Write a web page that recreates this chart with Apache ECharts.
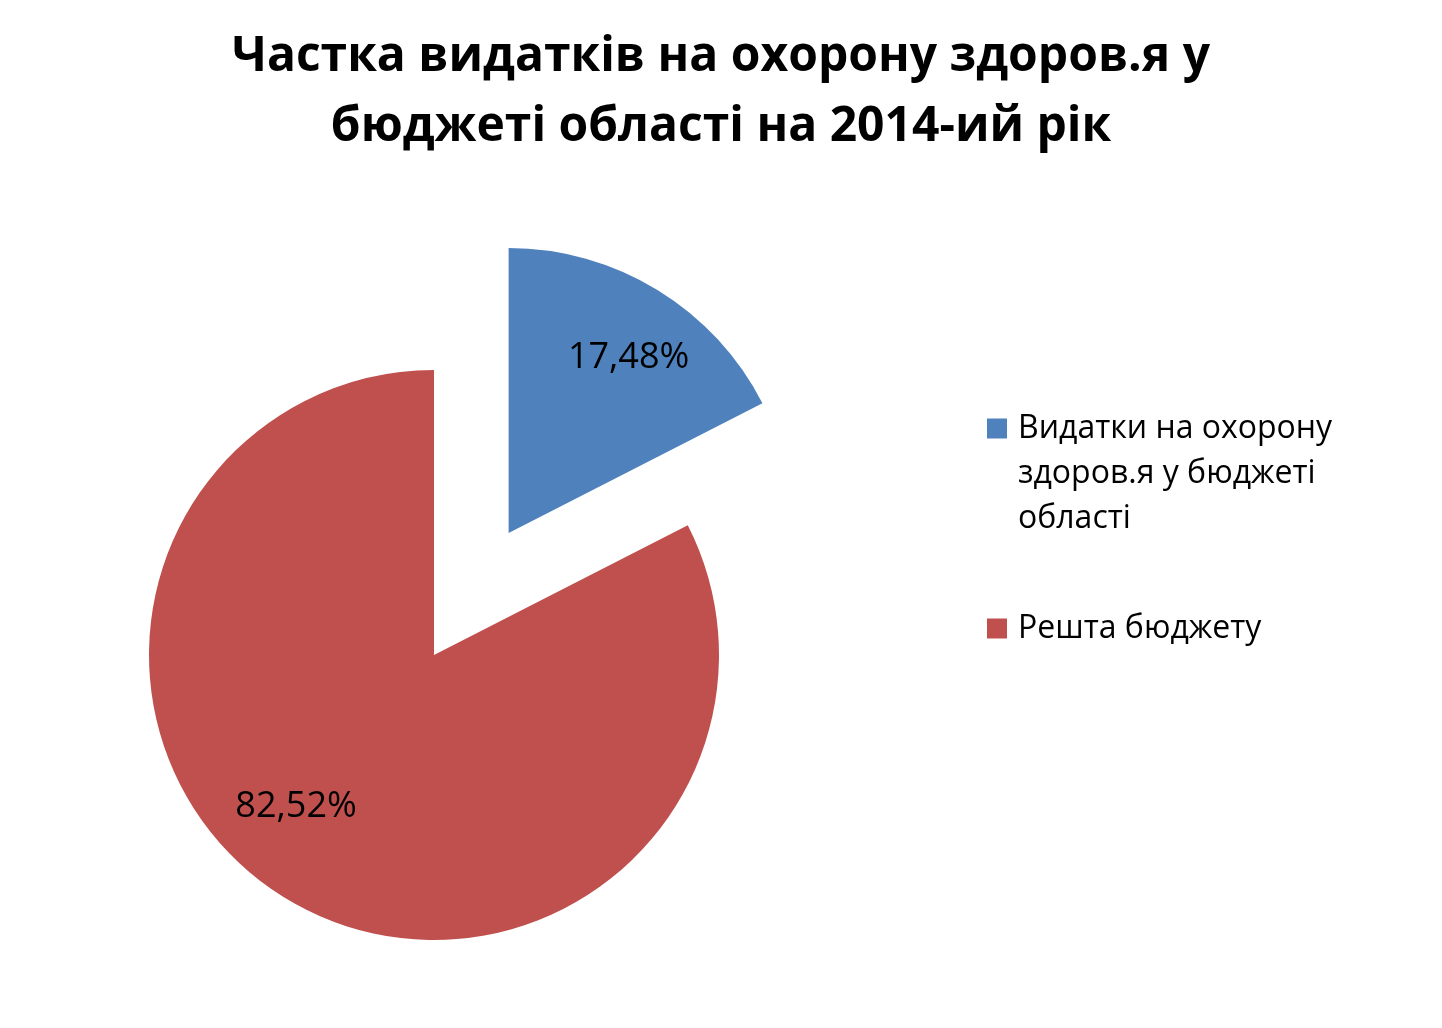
<!DOCTYPE html>
<html>
<head>
<meta charset="utf-8">
<script src="https://cdn.jsdelivr.net/npm/echarts@6/dist/echarts.min.js"></script>
<style>
  html, body { margin: 0; padding: 0; background: #ffffff; }
  #chart { width: 1442px; height: 1028px; }
</style>
</head>
<body>
<div id="chart"></div>
<script>
const titleLines = ['Частка видатків на охорону здоров.я у', 'бюджеті області на 2014-ий рік'];
const categories = ['Видатки на охорону здоров.я у бюджеті області', 'Решта бюджету'];
const legendLines = [['Видатки на охорону', 'здоров.я у бюджеті', 'області'], ['Решта бюджету']];
const values = [17.48, 82.52];
const colors = ['#4F81BD', '#C0504D'];
const labelShift = [[44, -51], [-62, 28]];

const FONT = "'Open Sans', 'Noto Sans', 'DejaVu Sans', sans-serif";
const LEGEND_LH = 45;

const chart = echarts.init(document.getElementById('chart'), null, { renderer: 'canvas' });

chart.setOption({
  backgroundColor: '#ffffff',
  animation: false,
  title: {
    text: titleLines.join('\n'),
    left: 'center',
    top: 22,
    padding: 0,
    textStyle: {
      fontFamily: FONT,
      fontWeight: 'bold',
      fontSize: 48,
      lineHeight: 70,
      color: '#000000'
    }
  },
  legend: {
    orient: 'vertical',
    left: 987,
    top: 316,
    padding: 0,
    itemWidth: 20,
    itemHeight: 20,
    itemGap: 65,
    icon: 'rect',
    selectedMode: false,
    data: categories,
    formatter: function (name) {
      const lines = legendLines[categories.indexOf(name)];
      // pad with empty lines above so the first line sits beside the icon
      const pad = [];
      for (let k = 1; k < lines.length; k++) pad.push(' ');
      return pad.concat(lines).join('\n');
    },
    textStyle: {
      fontFamily: FONT,
      fontSize: 32,
      lineHeight: LEGEND_LH,
      padding: [0, 0, 0, 6],
      color: '#000000'
    }
  },
  series: [{
    type: 'pie',
    center: [434, 655],
    radius: 285,
    startAngle: 90,
    clockwise: true,
    selectedMode: 'multiple',
    selectedOffset: 143,
    avoidLabelOverlap: false,
    emphasis: { disabled: true },
    label: {
      show: true,
      position: 'inside',
      formatter: function (p) {
        return p.value.toFixed(2).replace('.', ',') + '%';
      },
      fontFamily: FONT,
      fontSize: 36,
      color: '#000000'
    },
    labelLine: { show: false },
    labelLayout: function (params) {
      const s = labelShift[params.dataIndex];
      return { dx: s[0], dy: s[1] };
    },
    itemStyle: { borderWidth: 0 },
    data: categories.map((name, i) => ({
      name: name,
      value: values[i],
      selected: i === 0,
      itemStyle: { color: colors[i] }
    }))
  }]
});
</script>
</body>
</html>
